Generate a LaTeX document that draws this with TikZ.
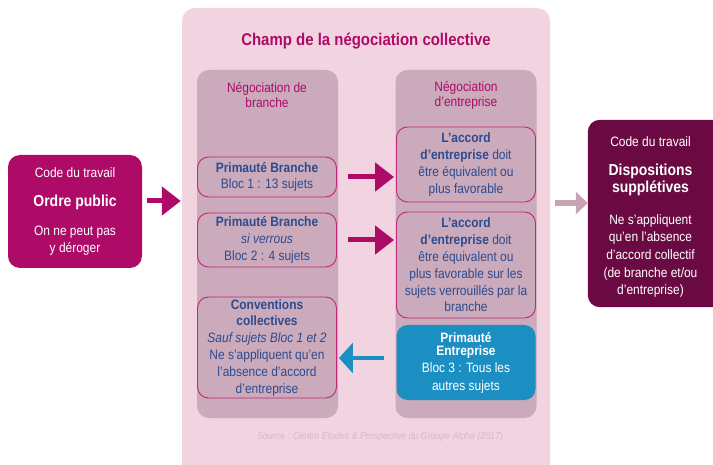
\documentclass[tikz,border=0pt]{standalone}
\usepackage{fontspec}
\setmainfont{Liberation Sans}[FakeStretch=0.88]
\usetikzlibrary{arrows.meta,backgrounds}

\definecolor{pinkbg}{HTML}{F1D4E0}
\definecolor{mauve}{HTML}{CAAABB}
\definecolor{mag}{HTML}{AE0A68}
\definecolor{magline}{HTML}{C0267A}
\definecolor{navy}{HTML}{2E4B8E}
\definecolor{sky}{HTML}{1C8FC2}
\definecolor{wine}{HTML}{6B0A42}
\definecolor{greyarrow}{HTML}{C9A3B4}
\definecolor{srcgrey}{HTML}{D9B8C8}

\newcommand{\bigbold}[1]{{\fontsize{15.9}{18}\selectfont\bfseries #1}}

\begin{document}
\begin{tikzpicture}[x=1pt,y=-1pt,
  every node/.style={font=\fontsize{13.6}{16.8}\selectfont, align=center, inner sep=0pt},
  panel/.style={fill=pinkbg, rounded corners=13pt},
  column/.style={fill=mauve, rounded corners=12pt, minimum width=141pt, minimum height=348pt},
  header/.style={text=mag, font=\fontsize{13.6}{15}\selectfont},
  rulebox/.style={draw=magline, line width=0.9pt, rounded corners=11pt, text=navy, minimum width=139pt},
  skybox/.style={fill=sky, rounded corners=11pt, text=white, minimum width=139pt},
  magarrow/.style={draw=mag, line width=5pt, -{Triangle[length=19pt,width=28pt]}},
  bluearrow/.style={draw=sky, line width=4.5pt, -{Triangle[length=14pt,width=30pt]}},
  greyarr/.style={draw=greyarrow, line width=6pt, -{Triangle[length=12pt,width=22pt]}}
]
\useasboundingbox (0,0) rectangle (713,465);
\clip (0,0) rectangle (713,465);

% field of collective bargaining
\node[panel, minimum width=368pt, minimum height=472pt] (field) at (366,244) {};
\node[text=mag, font=\fontsize{17}{20}\selectfont\bfseries] (title) at (366,41) {Champ de la négociation collective};

% the two bargaining levels
\node[column] (brcol) at (267.5,244) {};
\node[column] (entcol) at (466,244) {};
\node[header] (brhead) at (267,95.5) {Négociation de\\branche};
\node[header] (enthead) at (466,95.5) {Négociation\\d’entreprise};

% branch level blocks
\node[rulebox, minimum height=40pt] (b1) at (267,177)
  {\textbf{Primauté Branche}\\Bloc 1 : 13 sujets};
\node[rulebox, minimum height=54pt] (b2) at (267,240)
  {\textbf{Primauté Branche}\\\textit{si verrous}\\Bloc 2 : 4 sujets};
\node[rulebox, minimum height=101pt] (b3) at (267,347.5)
  {\textbf{Conventions}\\\textbf{collectives}\\\textit{Sauf sujets Bloc 1 et 2}\\Ne s’appliquent qu’en\\l’absence d’accord\\d’entreprise};

% company level blocks
\node[rulebox, minimum height=75pt] (r1) at (466,164.5)
  {\textbf{L’accord}\\\textbf{d’entreprise} doit\\être équivalent ou\\plus favorable};
\node[rulebox, minimum height=106pt] (r2) at (466,265)
  {\textbf{L’accord}\\\textbf{d’entreprise} doit\\être équivalent ou\\plus favorable sur les\\sujets verrouillés par la\\branche};
\node[skybox, minimum height=75pt] (r3) at (466,362.5)
  {\textbf{Primauté}\\[-3.5pt]\textbf{Entreprise}\\[0.5pt]Bloc 3 : Tous les\\[0.5pt]autres sujets};

% labour code, public order
\node[fill=mag, rounded corners=12pt, text=white, minimum width=134pt, minimum height=113pt] (ordre) at (75,211.5)
  {Code du travail\\[12pt]\bigbold{Ordre public}\\[13pt]On ne peut pas\\y déroger};

% labour code, default provisions (panel runs past the right edge)
\node[text=white, minimum width=125pt, minimum height=187pt] (dispo) at (650.5,217)
  {Code du travail\\[12pt]\bigbold{Dispositions}\\[0.5pt]\bigbold{supplétives}\\[15pt]Ne s’appliquent\\[0.8pt]qu’en l’absence\\[0.8pt]d’accord collectif\\[0.8pt](de branche et/ou\\[0.8pt]d’entreprise)};
\begin{scope}[on background layer]
  \fill[wine, rounded corners=12pt] ([yshift=3.5pt]dispo.north west) rectangle ([xshift=20pt,yshift=3.5pt]dispo.south east);
\end{scope}

% source line
\node[text=srcgrey, font=\fontsize{10}{12}\selectfont\itshape] (src) at (380,436)
  {Source : Centre Études \& Prospective du Groupe Alpha (2017)};

% arrows
\coordinate (ay) at (0,201);
\coordinate (ry) at (0,203);
\coordinate (by) at (0,358);
\draw[magarrow, shorten <=5pt, shorten >=1pt] (ordre.east |- ay) -- (field.west |- ay);
\draw[magarrow, shorten <=11pt, shorten >=2pt] (b1.east) -- (r1.west |- b1.east);
\draw[magarrow, shorten <=11pt, shorten >=2pt] (b2.east) -- (r2.west |- b2.east);
\draw[bluearrow, shorten <=12pt, shorten >=2pt] (r3.west |- by) -- (b3.east |- by);
\draw[greyarr, shorten <=5pt, shorten >=0pt] (field.east |- ry) -- (dispo.west |- ry);
\end{tikzpicture}
\end{document}
